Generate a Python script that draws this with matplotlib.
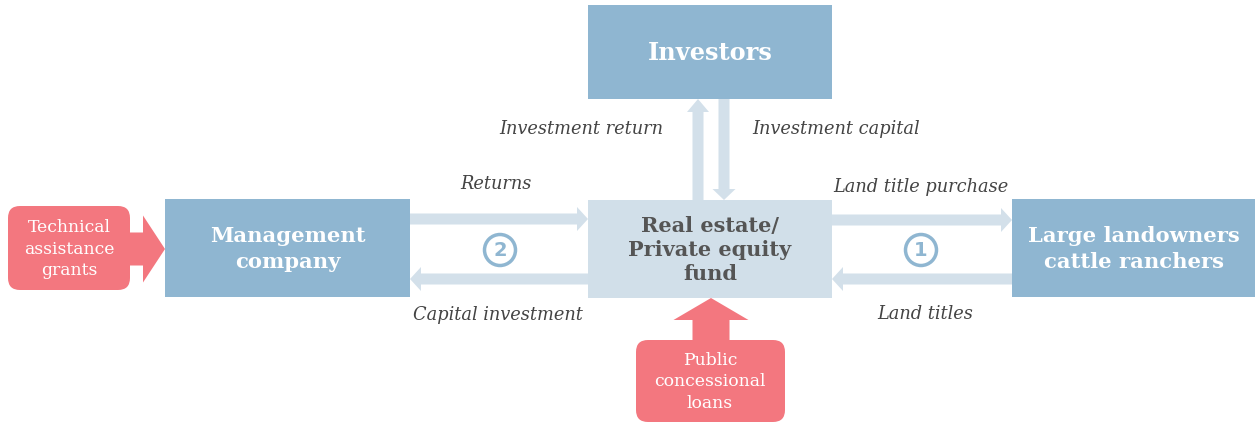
import matplotlib.pyplot as plt
from matplotlib.patches import Rectangle, FancyBboxPatch, FancyArrow, Circle

# box labels and flow labels
box_names = ["Investors", "Real estate/\nPrivate equity\nfund",
             "Management\ncompany", "Large landowners\ncattle ranchers"]
flow_labels = ["Investment return", "Investment capital", "Returns",
               "Land title purchase", "Capital investment", "Land titles"]
pink_labels = ["Technical\nassistance\ngrants", "Public\nconcessional\nloans"]
step_numbers = ["2", "1"]

DARK = "#8fb6d1"
LIGHT = "#d1dfe9"
ARROW = "#d3e0ea"
PINK = "#f3777f"
TXT = "#444444"
SERIF = "DejaVu Serif"

fig = plt.figure(figsize=(12.55, 4.23), dpi=100)
ax = fig.add_axes([0, 0, 1, 1])
ax.set_xlim(0, 1255)
ax.set_ylim(423, 0)
ax.axis("off")

# boxes: (x, y, w, h, face, text colour)
boxes = [(588, 5, 244, 94, DARK, "white"),
         (588, 200, 244, 98, LIGHT, "#555555"),
         (165, 199, 245, 98, DARK, "white"),
         (1012, 199, 243, 98, DARK, "white")]
sizes = [17.3, 15, 15.2, 15.2]
spacing = [1.2, 1.28, 1.33, 1.33]
for (x, y, w, h, fc, tc), name, fs, ls in zip(boxes, box_names, sizes, spacing):
    ax.add_patch(Rectangle((x, y), w, h, facecolor=fc, edgecolor="none"))
    ax.text(x + w / 2, y + h / 2 + 1, name, ha="center", va="center",
            fontsize=fs, fontweight="bold", color=tc, family=SERIF,
            linespacing=ls)

# light flow arrows
def arrow(x, y, dx, dy, w=11, hw=24, hl=11):
    ax.add_patch(FancyArrow(x, y, dx, dy, width=w, head_width=hw,
                            head_length=hl, length_includes_head=True,
                            facecolor=ARROW, edgecolor="none"))

arrow(698, 200, 0, -101, w=11, hw=22, hl=13)
arrow(724, 99, 0, 101, w=11, hw=23, hl=11)
arrow(410, 219, 178, 0)
arrow(588, 279, -178, 0)
arrow(832, 220, 180, 0)
arrow(1012, 279, -180, 0)

# flow labels
label_pos = [(581, 129), (836, 129), (496, 184), (921, 187), (498, 315), (925, 314)]
for (x, y), lab in zip(label_pos, flow_labels):
    ax.text(x, y, lab, ha="center", va="center", fontsize=12.8,
            style="italic", color=TXT, family=SERIF)

# numbered circles
for (x, y), num in zip([(500, 250), (921, 250)], step_numbers):
    ax.add_patch(Circle((x, y), 15.5, facecolor="white", edgecolor=DARK, lw=2.5))
    ax.text(x, y + 1, num, ha="center", va="center", fontsize=14,
            fontweight="bold", color=DARK, family="DejaVu Sans")

# pink inputs
ax.add_patch(FancyBboxPatch((18, 216), 102, 64,
                            boxstyle="round,pad=10,rounding_size=12",
                            facecolor=PINK, edgecolor="none"))
ax.add_patch(FancyArrow(125, 249, 40, 0, width=33, head_width=67,
                        head_length=22, length_includes_head=True,
                        facecolor=PINK, edgecolor="none"))
ax.text(69, 249, pink_labels[0], ha="center", va="center", fontsize=12.4,
        color="white", family=SERIF, linespacing=1.35)

ax.add_patch(FancyBboxPatch((646, 350), 129, 62,
                            boxstyle="round,pad=10,rounding_size=12",
                            facecolor=PINK, edgecolor="none"))
ax.add_patch(FancyArrow(711, 345, 0, -47, width=37, head_width=75,
                        head_length=22, length_includes_head=True,
                        facecolor=PINK, edgecolor="none"))
ax.text(710, 382, pink_labels[1], ha="center", va="center", fontsize=12.4,
        color="white", family=SERIF, linespacing=1.35)

fig.savefig("out.png", dpi=100)
